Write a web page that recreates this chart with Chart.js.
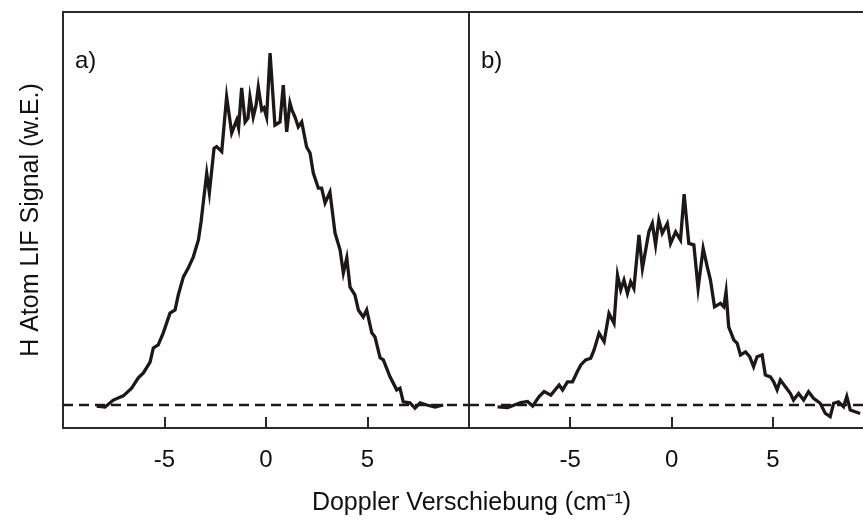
<!DOCTYPE html>
<html><head><meta charset="utf-8">
<script src="https://cdn.jsdelivr.net/npm/chart.js@4.4.1/dist/chart.umd.min.js"></script>
<style>
html,body{margin:0;padding:0;background:#fff;}
#wrap{position:relative;width:863px;height:521px;overflow:hidden;background:#fff;}
canvas{position:absolute;top:0;}
#ca{left:0;}
#cb{left:80px;}
</style></head><body>
<div id="wrap">
<canvas id="ca" width="480" height="521"></canvas>
<canvas id="cb" width="783" height="521"></canvas>
</div>
<script>
// ---- data ----
const xTicks = [-5, 0, 5];
const panelLabels = ['a)', 'b)'];
const yTitle = 'H Atom LIF Signal (w.E.)';
const xTitle = 'Doppler Verschiebung (cm\u207B\u00B9)';
const baseShift = [-10, 10];
const baseSignal = [0, 0];

const aShift = [-8.34,-7.93,-7.52,-7.03,-6.62,-6.29,-6.04,-5.71,-5.55,-5.31,-5.06,-4.73,-4.48,-4.32,-4.07,-3.83,-3.58,-3.33,-3.20,-3.10,-2.92,-2.79,-2.56,-2.43,-2.18,-1.94,-1.69,-1.44,-1.35,-1.20,-1.03,-0.89,-0.79,-0.63,-0.49,-0.38,-0.21,-0.10,0.03,0.20,0.44,0.69,0.85,1.02,1.18,1.28,1.43,1.59,1.76,2.00,2.17,2.33,2.58,2.74,2.91,3.15,3.32,3.40,3.65,3.81,3.98,4.14,4.38,4.55,4.79,4.96,5.21,5.37,5.62,5.78,6.11,6.44,6.60,6.76,7.09,7.34,7.59,7.92,8.33,8.73];
const aSignal = [-0.3,-0.6,1.4,2.6,4.8,7.7,9.1,12.2,16.2,17.1,20.5,26.1,27.0,31.3,36.4,38.9,42.1,46.9,52.0,57.0,65.8,60.3,72.9,73.4,72.0,87.6,77.3,81.0,78.7,90.1,80.4,81.5,87.5,81.8,85.2,90.3,83.8,84.4,81.8,100,79.5,80.4,90.9,77.6,85.8,83.8,81.8,79.0,80.4,73.3,71.6,65.9,61.6,61.6,57.4,60.5,52.6,48.9,44.0,37.5,41.8,33.5,31.3,27.0,25.0,27.0,20.5,19.3,13.4,12.8,8.0,4.3,4.8,0.9,0.6,-0.9,0.6,0.0,-0.6,0.0];

const bShift = [-8.59,-8.09,-7.44,-7.11,-6.86,-6.54,-6.29,-5.96,-5.55,-5.38,-5.14,-4.89,-4.65,-4.48,-4.24,-3.99,-3.83,-3.58,-3.33,-3.09,-2.84,-2.67,-2.51,-2.35,-2.18,-2.02,-1.86,-1.61,-1.44,-1.28,-1.12,-0.95,-0.79,-0.63,-0.46,-0.21,-0.05,0.20,0.44,0.62,0.85,1.10,1.31,1.56,1.76,1.92,2.12,2.41,2.58,2.69,2.82,3.07,3.24,3.40,3.65,3.86,4.05,4.22,4.47,4.63,4.88,5.04,5.21,5.37,5.62,5.86,6.02,6.27,6.52,6.76,7.01,7.34,7.59,7.83,8.00,8.24,8.49,8.65,8.82,9.06,9.31];
const bSignal = [-0.5,-0.7,0.7,1.0,-0.3,2.4,3.8,2.8,5.7,4.3,6.6,6.6,9.5,11.4,12.8,13.3,15.6,20.4,18.0,26.0,23.2,36.9,32.7,35.5,31.7,35.0,33.1,48.3,38.8,44.0,49.2,51.6,45.5,52.6,48.8,51.6,45.9,49.2,46.9,59.9,45.9,45.5,33.1,44.5,39.3,35.5,27.9,28.9,27.9,32.2,22.2,18.5,17.5,14.2,15.1,13.7,10.9,13.7,14.2,8.5,8.0,6.6,4.3,7.1,5.2,3.3,1.4,3.3,1.4,3.8,1.9,0.5,-2.4,-3.3,0.5,0.9,-0.5,2.4,-1.4,-1.9,-2.4];

// ---- styling ----
const FONT = '"Liberation Sans", Arial, Helvetica, sans-serif';
const INK = '#1c1818';
const FRAME = '#2a2a2a';
const Y_MIN = -6.53, Y_MAX = 111.65;
const X_TITLE_SIZE = 25;

const toPts = (xs, ys) => xs.map((x, i) => ({x, y: ys[i]}));

const panelLabelPlugin = {
  id: 'panelLabel',
  afterDatasetsDraw(chart, args, opts) {
    const {ctx, chartArea} = chart;
    ctx.save();
    ctx.font = '24px ' + FONT;
    ctx.fillStyle = '#111';
    ctx.textBaseline = 'alphabetic';
    ctx.textAlign = 'left';
    ctx.fillText(opts.text, chartArea.left + 12, chartArea.top + 56);
    ctx.restore();
  }
};

function datasets(xs, ys) {
  return [
    {data: toPts(baseShift, baseSignal), borderColor: INK, borderWidth: 2.5, borderDash: [10, 6], pointRadius: 0, tension: 0, order: 2},
    {data: toPts(xs, ys), borderColor: INK, borderWidth: 3.3, pointRadius: 0, tension: 0, borderJoinStyle: 'miter', order: 1}
  ];
}

function frameAxis(pos, size) {
  const o = {
    type: 'linear', position: pos, display: true,
    ticks: {display: false},
    grid: {display: false},
    border: {display: true, color: FRAME, width: 2},
  };
  o.afterFit = (s) => { if (pos === 'top' || pos === 'bottom') s.height = size; else s.width = size; };
  return o;
}

function xAxis(max, height) {
  return {
    type: 'linear', position: 'bottom', min: -10, max: max,
    afterBuildTicks: (s) => { s.ticks = xTicks.map(v => ({value: v})); },
    afterFit: (s) => { s.height = height; },
    ticks: {color: '#111', font: {family: FONT, size: 24}, padding: 29, maxRotation: 0, autoSkip: false,
            callback: (v) => String(v)},
    grid: {display: true, drawOnChartArea: false, drawTicks: true, tickLength: -11, color: FRAME, lineWidth: 2},
    border: {display: true, color: FRAME, width: 2}
  };
}

Chart.defaults.font.family = FONT;

// Panel a
new Chart(document.getElementById('ca'), {
  type: 'line',
  data: {datasets: datasets(aShift, aSignal)},
  plugins: [panelLabelPlugin],
  options: {
    responsive: false, animation: false, devicePixelRatio: 1,
    layout: {padding: {top: 12, left: 0, right: 0, bottom: 0}},
    plugins: {legend: {display: false}, tooltip: {enabled: false}, panelLabel: {text: panelLabels[0]}},
    scales: {
      x: xAxis(10, 93),
      y: {
        type: 'linear', position: 'left', min: Y_MIN, max: Y_MAX,
        afterFit: (s) => { s.width = 63; },
        ticks: {display: false}, grid: {display: false},
        border: {display: true, color: FRAME, width: 2},
        title: {display: true, text: yTitle, color: '#111', font: {family: FONT, size: 25}, padding: {top: 16, bottom: 0}}
      },
      xTop: frameAxis('top', 0),
      yRight: frameAxis('right', 11)
    }
  }
});

// Panel b
new Chart(document.getElementById('cb'), {
  type: 'line',
  data: {datasets: datasets(bShift, bSignal)},
  plugins: [panelLabelPlugin],
  options: {
    responsive: false, animation: false, devicePixelRatio: 1,
    layout: {padding: {top: 12, left: 0, right: 0, bottom: 0}},
    plugins: {
      legend: {display: false}, tooltip: {enabled: false}, panelLabel: {text: panelLabels[1]},
      title: {display: true, position: 'bottom', text: xTitle, color: '#111', font: {family: FONT, size: X_TITLE_SIZE, weight: 'normal'}, padding: {top: 4, bottom: 3}}
    },
    scales: {
      x: xAxis(9.45, 93 - (X_TITLE_SIZE * 1.2 + 7)),
      y: {
        type: 'linear', position: 'left', min: Y_MIN, max: Y_MAX,
        afterFit: (s) => { s.width = 389; },
        ticks: {display: false}, grid: {display: false},
        border: {display: true, color: FRAME, width: 2}
      },
      xTop: frameAxis('top', 0)
    }
  }
});
</script>
</body></html>
